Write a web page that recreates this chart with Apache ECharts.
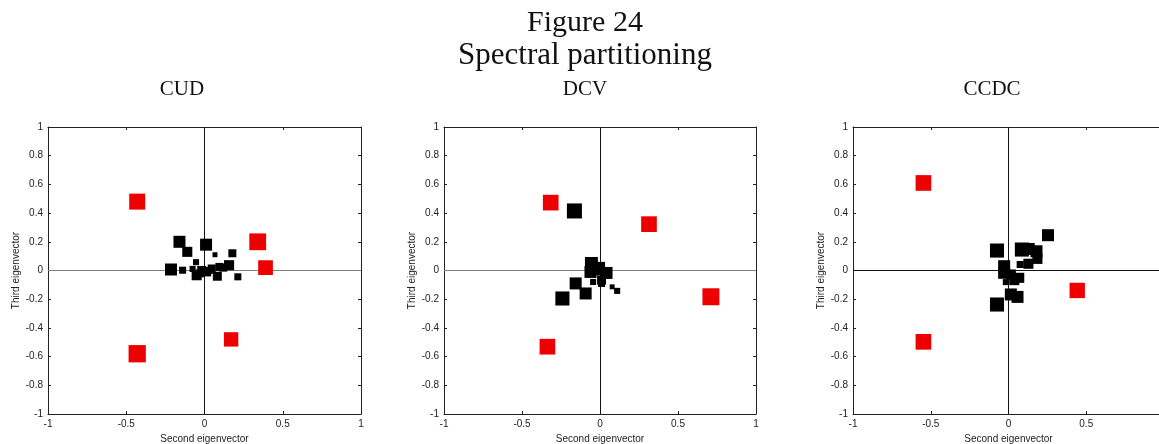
<!DOCTYPE html>
<html>
<head>
<meta charset="utf-8">
<script src="https://cdn.jsdelivr.net/npm/echarts@6/dist/echarts.min.js"></script>
<style>
  html, body { margin: 0; padding: 0; background: #fff; }
  #chart { width: 1159px; height: 444px; }
</style>
</head>
<body>
<div id="chart"></div>
<script>
// [second eigenvector, third eigenvector, node weight]
const cudBlack = [
  [-0.16, 0.2, 7.5], [-0.11, 0.13, 6.3], [0.01, 0.18, 7.5], [0.067, 0.11, 3.1],
  [0.178, 0.12, 5], [-0.214, 0.007, 7.5], [-0.14, 0.002, 4.4], [-0.076, 0.011, 3.8],
  [-0.054, 0.058, 3.8], [-0.05, -0.033, 6.3], [-0.018, 0.0, 5.6], [0.014, -0.01, 5.6],
  [0.046, 0.014, 5], [0.082, -0.04, 5.6], [0.095, 0.025, 5], [0.157, 0.037, 6.3],
  [0.213, -0.044, 4.4], [-0.03, -0.02, 5], [0.03, 0.0, 4.4], [0.12, 0.02, 5]
];
const cudRed = [
  [-0.43, 0.48, 10], [0.34, 0.2, 10.5], [0.39, 0.02, 9.2], [0.17, -0.48, 9], [-0.43, -0.58, 10.8]
];

const dcvBlack = [
  [-0.164, 0.415, 9.4], [-0.055, 0.049, 8.1], [-0.061, -0.01, 7.5], [0.0, 0.025, 6.3],
  [0.042, -0.017, 7.5], [0.01, -0.067, 5.6], [-0.044, -0.08, 3.8], [-0.156, -0.09, 7.5],
  [-0.092, -0.16, 7.5], [-0.241, -0.195, 8.8], [0.078, -0.114, 3.1], [0.11, -0.142, 3.8],
  [0.01, -0.09, 4.4], [-0.02, 0.0, 6.3]
];
const dcvRed = [
  [-0.316, 0.473, 9.8], [0.314, 0.323, 9.8], [0.711, -0.183, 10.6], [-0.337, -0.531, 9.8]
];

const ccdcBlack = [
  [0.254, 0.246, 7.5], [-0.074, 0.139, 8.8], [0.086, 0.146, 8.8], [0.18, 0.134, 7.5],
  [0.186, 0.081, 6.3], [0.128, 0.047, 6.3], [0.075, 0.042, 4.4], [-0.028, 0.03, 7.5],
  [-0.028, -0.016, 7.5], [0.015, -0.028, 6.3], [0.069, -0.051, 6.3], [0.037, -0.067, 6.3],
  [-0.017, -0.081, 3.8], [0.015, -0.167, 7.5], [0.058, -0.184, 7.5], [-0.074, -0.237, 8.8],
  [0.13, 0.15, 7.5]
];
const ccdcRed = [
  [-0.547, 0.61, 9.8], [0.442, -0.139, 9.6], [-0.547, -0.497, 9.8]
];

const panelNames = ["CUD", "DCV", "CCDC"];
const xTicks = ["-1", "-0.5", "0", "0.5", "1"];
const yTicks = ["-1", "-0.8", "-0.6", "-0.4", "-0.2", "0", "0.2", "0.4", "0.6", "0.8", "1"];

const panels = [
  { black: cudBlack, red: cudRed, left: 48, width: 313, hColor: "#808080" },
  { black: dcvBlack, red: dcvRed, left: 444, width: 312, hColor: "#808080" },
  { black: ccdcBlack, red: ccdcRed, left: 853, width: 311, hColor: "#111" },
];
const subX = [182, 585, 992];

const axisFont = { fontFamily: "Liberation Sans", fontSize: 10, color: "#222" };
const tickFmt = (list) => (v) => {
  const s = list.find((t) => Math.abs(parseFloat(t) - v) < 1e-6);
  return s === undefined ? "" : s;
};
const weightToSize = (v) => v[2] * 1.6;

const grids = [], xAxes = [], yAxes = [], series = [];
panels.forEach((p, i) => {
  grids.push({
    left: p.left, top: 127, width: p.width, height: 287, show: false,
    containLabel: false, outerBoundsMode: "none",
  });
  const common = {
    gridIndex: i, type: "value", min: -1, max: 1,
    axisLine: { show: true, onZero: false, lineStyle: { color: "#222", width: 1 } },
    axisTick: { show: true, inside: true, length: 3, lineStyle: { color: "#222" } },
    splitLine: { show: false },
  };
  xAxes.push({
    ...common, position: "bottom", interval: 0.5,
    axisLabel: { ...axisFont, margin: 5, formatter: tickFmt(xTicks) },
    name: "Second eigenvector", nameLocation: "middle", nameGap: 18,
    nameTextStyle: { fontFamily: "Liberation Sans", fontSize: 10, color: "#222" },
  });
  xAxes.push({ ...common, position: "top", interval: 0.5, axisLabel: { show: false } });
  yAxes.push({
    ...common, position: "left", interval: 0.2,
    axisLabel: { ...axisFont, margin: 5, formatter: tickFmt(yTicks) },
    name: "Third eigenvector", nameLocation: "middle", nameGap: 27,
    nameTextStyle: { fontFamily: "Liberation Sans", fontSize: 10, color: "#222" },
  });
  yAxes.push({ ...common, position: "right", interval: 0.2, axisLabel: { show: false } });

  const xi = i * 2, yi = i * 2;
  // zero lines
  series.push({
    type: "scatter", xAxisIndex: xi, yAxisIndex: yi, data: [], silent: true,
    markLine: {
      silent: true, symbol: "none", z: 1, animation: false,
      label: { show: false },
      data: [
        { xAxis: 0, lineStyle: { color: "#111", width: 1, type: "solid" } },
        { yAxis: 0, lineStyle: { color: p.hColor, width: 1, type: "solid" } },
      ],
    },
  });
  series.push({
    type: "scatter", xAxisIndex: xi, yAxisIndex: yi, z: 2,
    symbol: "rect", symbolSize: weightToSize, data: p.black,
    itemStyle: { color: "#000", opacity: 1 },
  });
  series.push({
    type: "scatter", xAxisIndex: xi, yAxisIndex: yi, z: 3,
    symbol: "rect", symbolSize: weightToSize, data: p.red,
    itemStyle: { color: "#ee0000", opacity: 1 },
  });
});

const serif = "Liberation Serif";
const titles = [
  { text: "Figure 24", left: 585, top: 8, textAlign: "center", padding: 0,
    textStyle: { fontFamily: serif, fontSize: 30, fontWeight: "normal", color: "#111" } },
  { text: "Spectral partitioning", left: 585, top: 40, textAlign: "center", padding: 0,
    textStyle: { fontFamily: serif, fontSize: 31, fontWeight: "normal", color: "#111" } },
  ...panelNames.map((n, i) => ({
    text: n, left: subX[i], top: 79, textAlign: "center", padding: 0,
    textStyle: { fontFamily: serif, fontSize: 21, fontWeight: "normal", color: "#111" },
  })),
];

const chart = echarts.init(document.getElementById("chart"));
chart.setOption({
  animation: false,
  backgroundColor: "#fff",
  title: titles,
  grid: grids,
  xAxis: xAxes,
  yAxis: yAxes,
  series: series,
});
</script>
</body>
</html>
